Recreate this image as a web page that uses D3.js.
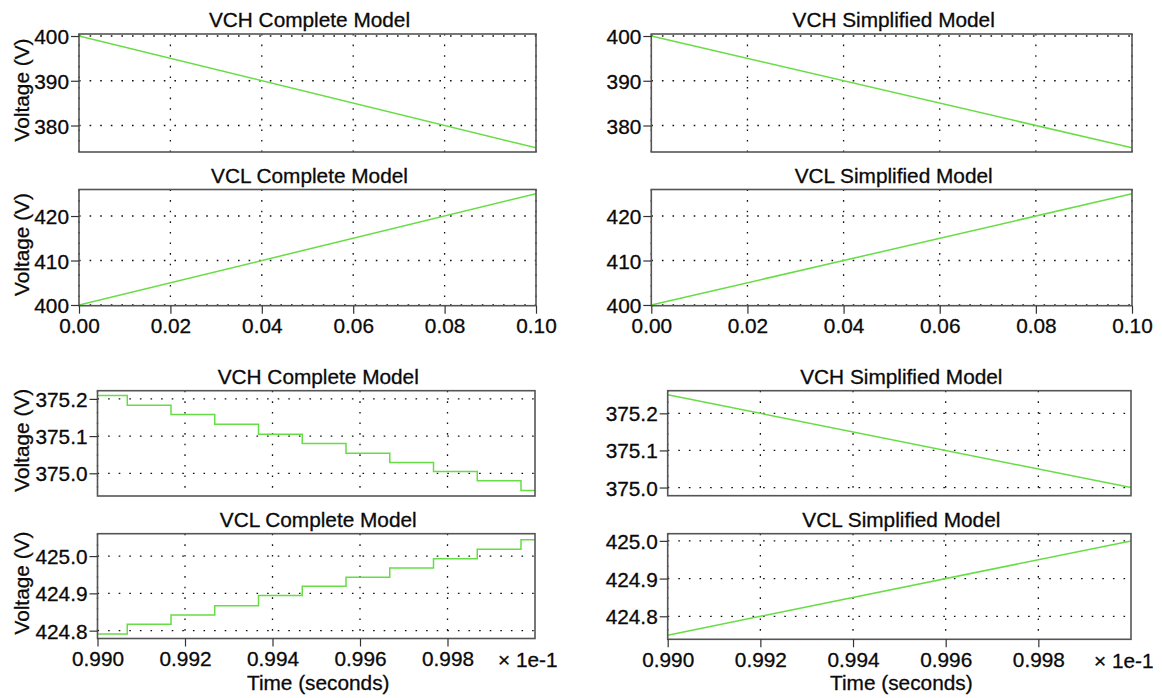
<!DOCTYPE html>
<html><head><meta charset="utf-8">
<script src="https://cdn.jsdelivr.net/npm/d3@7"></script>
<style>
body{margin:0;background:#fff}
text{font-family:"Liberation Sans",Arial,sans-serif;fill:#0a0a0a;stroke:#0a0a0a;stroke-width:0.3px}
</style>
</head><body>
<svg id="c" width="1162" height="698"></svg>
<script>
// ---------- data ----------
const timeFull = [0.00, 0.10];
const vchCompleteFull = [400, 375];
const vclCompleteFull = [400, 425];
const vchSimplifiedFull = [400, 375];
const vclSimplifiedFull = [400, 425];

const timeZoomLine = [0.990, 1.000];
const vchSimplifiedZoom = [375.25, 375.00];
const vclSimplifiedZoom = [424.75, 425.00];

const stepTimes = [0.990, 0.99068, 0.99168, 0.99268, 0.99368, 0.99468, 0.99568, 0.99668, 0.99768, 0.99868, 0.99968, 1.000];
const vchCompleteSteps = [375.209, 375.183, 375.158, 375.132, 375.105, 375.080, 375.054, 375.029, 375.005, 374.980, 374.954, 374.954];
const vclCompleteSteps = [424.791, 424.817, 424.842, 424.867, 424.894, 424.919, 424.943, 424.968, 424.993, 425.018, 425.044, 425.044];

const xTicksFull = [0.00, 0.02, 0.04, 0.06, 0.08, 0.10];
const xTicksZoom = [0.990, 0.992, 0.994, 0.996, 0.998];
const yTicksVchFull = [380, 390, 400];
const yTicksVclFull = [400, 410, 420];
const yTicksVchZoom = [375.0, 375.1, 375.2];
const yTicksVclZoom = [424.8, 424.9, 425.0];
const xMultiplier = "× 1e-1";
const xTitle = "Time (seconds)";
const yTitle = "Voltage (V)";

// ---------- layout ----------
const panels = [
  {title:"VCH Complete Model", box:[79,536,34,152], xd:[0,0.1], yd:[374.08,400.45], xt:xTicksFull, yt:yTicksVchFull, xf:".2f", yf:"d", showX:false, ylab:true, t:timeFull, v:vchCompleteFull, step:false},
  {title:"VCL Complete Model", box:[79,536,189.5,305.7], xd:[0,0.1], yd:[399.84,425.96], xt:xTicksFull, yt:yTicksVclFull, xf:".2f", yf:"d", showX:true, ylab:true, t:timeFull, v:vclCompleteFull, step:false},
  {title:"VCH Simplified Model", box:[651.3,1132,34,152], xd:[0,0.1], yd:[374.08,400.45], xt:xTicksFull, yt:yTicksVchFull, xf:".2f", yf:"d", showX:false, ylab:false, t:timeFull, v:vchSimplifiedFull, step:false},
  {title:"VCL Simplified Model", box:[651.3,1132,189.5,305.7], xd:[0,0.1], yd:[399.84,425.96], xt:xTicksFull, yt:yTicksVclFull, xf:".2f", yf:"d", showX:true, ylab:false, t:timeFull, v:vclSimplifiedFull, step:false},
  {title:"VCH Complete Model", box:[97.5,535,390.7,496], xd:[0.990,1.000], yd:[374.939,375.222], xt:xTicksZoom, yt:yTicksVchZoom, xf:".3f", yf:".1f", showX:false, ylab:true, t:stepTimes, v:vchCompleteSteps, step:true},
  {title:"VCL Complete Model", box:[97.5,535,533.7,638.5], xd:[0.990,1.000], yd:[424.779,425.060], xt:xTicksZoom, yt:yTicksVclZoom, xf:".3f", yf:".1f", showX:true, ylab:true, t:stepTimes, v:vclCompleteSteps, step:true, mult:true},
  {title:"VCH Simplified Model", box:[667.7,1131,390.7,495.7], xd:[0.990,1.000], yd:[374.978,375.261], xt:xTicksZoom, yt:yTicksVchZoom, xf:".3f", yf:".1f", showX:false, ylab:false, t:timeZoomLine, v:vchSimplifiedZoom, step:false},
  {title:"VCL Simplified Model", box:[667.7,1131,533.7,639.3], xd:[0.990,1.000], yd:[424.739,425.019], xt:xTicksZoom, yt:yTicksVclZoom, xf:".3f", yf:".1f", showX:true, ylab:false, t:timeZoomLine, v:vclSimplifiedZoom, step:false, mult:true}
];

const svg = d3.select("#c");
const FS = "20.8px";

panels.forEach((p, i) => {
  const [x0, x1, y0, y1] = p.box;
  const x = d3.scaleLinear().domain(p.xd).range([x0, x1]);
  const y = d3.scaleLinear().domain(p.yd).range([y1, y0]);
  const g = svg.append("g");

  // grid
  g.selectAll(".gx").data(p.xt).join("line")
    .attr("x1", d => x(d)).attr("x2", d => x(d))
    .attr("y1", y0).attr("y2", y1)
    .attr("stroke", "#111").attr("stroke-width", 1.3).attr("stroke-dasharray", "1.6,9");
  g.selectAll(".gy").data(p.yt).join("line")
    .attr("x1", x0).attr("x2", x1)
    .attr("y1", d => y(d)).attr("y2", d => y(d))
    .attr("stroke", "#111").attr("stroke-width", 1.3).attr("stroke-dasharray", "1.6,9");

  // data line
  const pts = p.t.map((t, k) => [t, p.v[k]]);
  const line = d3.line().x(d => x(d[0])).y(d => y(d[1]));
  if (p.step) line.curve(d3.curveStepAfter);
  const clipId = "clip" + i;
  svg.append("clipPath").attr("id", clipId).append("rect")
    .attr("x", x0).attr("y", y0).attr("width", x1 - x0).attr("height", y1 - y0);
  g.append("path").datum(pts).attr("d", line)
    .attr("fill", "none").attr("stroke", "#66dd44").attr("stroke-width", 1.5)
    .attr("clip-path", `url(#${clipId})`);

  // frame
  g.append("rect").attr("x", x0).attr("y", y0).attr("width", x1 - x0).attr("height", y1 - y0)
    .attr("fill", "none").attr("stroke", "#555").attr("stroke-width", 1.6);

  // y axis
  const ya = g.append("g").attr("transform", `translate(${x0},0)`)
    .call(d3.axisLeft(y).tickValues(p.yt).tickFormat(d3.format(p.yf)).tickSize(8).tickPadding(2));
  ya.select(".domain").remove();
  ya.selectAll("line").attr("stroke", "#333").attr("stroke-width", 1.2);
  ya.selectAll("text").style("font-size", FS).attr("fill", "#0a0a0a").attr("dy", "0.36em");

  // x axis
  if (p.showX) {
    const xa = g.append("g").attr("transform", `translate(0,${y1})`)
      .call(d3.axisBottom(x).tickValues(p.xt).tickFormat(d3.format(p.xf)).tickSize(8).tickPadding(5));
    xa.select(".domain").remove();
    xa.selectAll("line").attr("stroke", "#333").attr("stroke-width", 1.2);
    xa.selectAll("text").style("font-size", FS).attr("fill", "#0a0a0a");
  }
  if (p.mult) {
    g.append("text").attr("x", x1 - 37).attr("y", y1 + 28.5)
      .style("font-size", FS).text(xMultiplier);
    g.append("text").attr("x", (x0 + x1) / 2 + 2).attr("y", 690)
      .attr("text-anchor", "middle").style("font-size", FS).text(xTitle);
  }

  // title
  g.append("text").attr("x", (x0 + x1) / 2 + 2).attr("y", y0 - 7)
    .attr("text-anchor", "middle").style("font-size", FS).text(p.title);

  // y label
  if (p.ylab) {
    const cy = (y0 + y1) / 2 - 3;
    g.append("text").attr("transform", `translate(28.5,${cy}) rotate(-90)`)
      .attr("text-anchor", "middle").style("font-size", FS).text(yTitle);
  }
});
</script>
</body></html>
